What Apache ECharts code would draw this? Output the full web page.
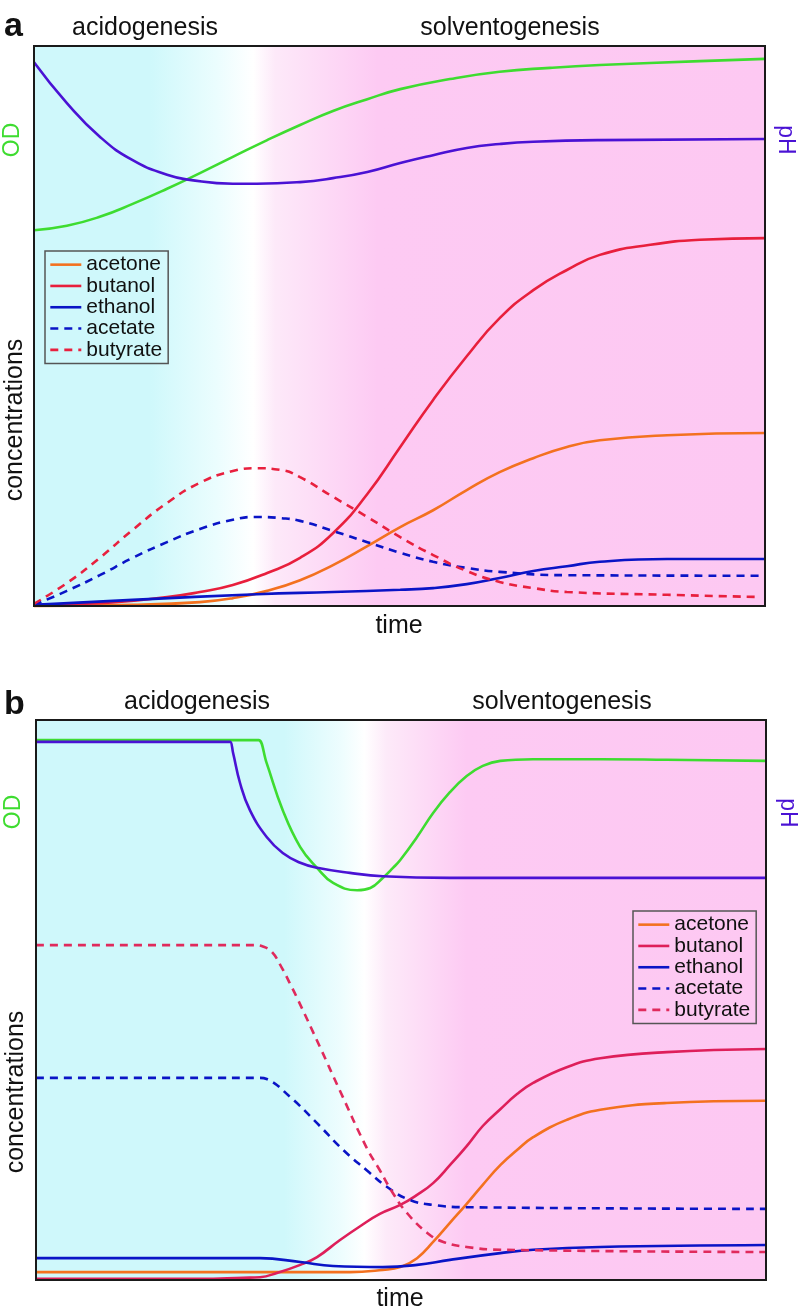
<!DOCTYPE html>
<html><head><meta charset="utf-8">
<script src="https://cdn.jsdelivr.net/npm/echarts@6/dist/echarts.min.js"></script>
<style>html,body{margin:0;padding:0;background:#fff}#c{width:799px;height:1312px}</style>
</head><body><div id="c"></div>
<script>
// ---------- labels ----------
const legendNames = ['acetone', 'butanol', 'ethanol', 'acetate', 'butyrate'];
const phaseLabels = ['acidogenesis', 'solventogenesis'];
const axisLabels = { od: 'OD', ph: 'pH', conc: 'concentrations', time: 'time' };
const panelLetters = ['a', 'b'];

// ---------- panel a (time 0-100, relative value 0-100) ----------
const odA_t = [0, 4.5, 9.0, 13.5, 18.2, 22.7, 27.2, 31.9, 36.4, 40.9, 45.6, 50.1, 56.9, 63.7, 70.6, 77.4, 91.1, 100];
const odA_v = [67.1, 67.9, 69.5, 71.8, 74.5, 77.3, 80.2, 83.2, 85.9, 88.4, 90.5, 92.3, 94.1, 95.4, 96.1, 96.6, 97.3, 97.7];
const phA_t = [0, 4.5, 9.0, 13.5, 18.2, 21.3, 27.2, 30.5, 36.4, 40.9, 45.6, 50.1, 54.6, 59.2, 63.7, 68.3, 77.4, 100];
const phA_v = [97.1, 89.8, 83.8, 79.6, 77.0, 76.1, 75.4, 75.4, 75.7, 76.4, 77.5, 79.1, 80.5, 81.8, 82.5, 82.9, 83.2, 83.4];
const butanolA_t = [0, 9.0, 18.2, 22.7, 27.2, 31.9, 36.4, 40.9, 45.6, 50.1, 54.6, 59.2, 63.7, 68.3, 72.9, 77.4, 84.3, 91.1, 100];
const butanolA_v = [0.2, 0.5, 1.6, 2.5, 3.75, 5.9, 8.6, 13.0, 20.0, 28.4, 36.8, 44.6, 51.4, 56.4, 60.0, 62.7, 64.5, 65.4, 65.7];
const acetoneA_t = [0, 13.5, 22.7, 27.2, 31.9, 36.4, 40.9, 45.6, 50.1, 54.6, 59.2, 63.7, 68.3, 72.9, 77.4, 86.6, 100];
const acetoneA_v = [0, 0.2, 0.7, 1.4, 2.7, 4.6, 7.3, 10.7, 14.1, 17.1, 20.7, 23.9, 26.4, 28.4, 29.6, 30.5, 30.9];
const ethanolA_t = [0, 13.5, 30.5, 40.9, 50.1, 54.6, 59.2, 63.7, 68.3, 72.9, 77.4, 86.6, 100];
const ethanolA_v = [0.2, 1.1, 2.1, 2.5, 2.9, 3.2, 3.9, 5.0, 6.25, 7.1, 7.9, 8.4, 8.4];
const butyrateA_t = [0, 4.5, 9.0, 13.5, 18.2, 22.7, 27.2, 30.5, 33.7, 36.4, 40.9, 45.6, 50.1, 54.6, 59.2, 63.7, 68.3, 72.9, 86.6, 99.3];
const butyrateA_v = [0.4, 4.1, 8.6, 13.6, 18.4, 22.0, 24.1, 24.6, 24.3, 23.0, 19.5, 15.9, 12.3, 9.1, 6.25, 4.3, 3.2, 2.5, 2.0, 1.6];
const acetateA_t = [0, 4.5, 9.0, 13.5, 18.2, 22.7, 27.2, 30.5, 33.7, 36.4, 40.9, 45.6, 50.1, 54.6, 59.2, 63.7, 72.9, 100];
const acetateA_v = [0.2, 2.7, 5.5, 8.6, 11.4, 13.75, 15.4, 15.9, 15.7, 15.2, 13.4, 11.4, 9.5, 7.9, 6.8, 6.1, 5.5, 5.4];

// ---------- panel b ----------
const odB_t = [0, 22.5, 30.2, 30.5, 31.6, 33.8, 36.2, 38.5, 40.7, 44.0, 45.8, 47.5, 48.9, 49.9, 52.2, 54.4, 56.7, 59.0, 61.2, 63.6, 68.1, 77.3, 86.4, 100];
const odB_v = [96.4, 96.4, 96.4, 96.4, 92.3, 83.9, 77.3, 73.6, 70.9, 69.6, 70.0, 71.8, 73.6, 75.0, 79.1, 83.4, 87.1, 90.0, 91.8, 92.7, 93.0, 93.0, 92.9, 92.7];
const phB_t = [0, 22.5, 26.3, 26.6, 27.0, 27.95, 29.3, 31.6, 33.8, 36.2, 38.5, 43.0, 47.5, 56.7, 100];
const phB_v = [96.1, 96.1, 96.1, 96.1, 94.1, 88.75, 83.9, 79.1, 76.25, 74.5, 73.6, 72.7, 72.1, 71.8, 71.8];
const butyrateB_t = [0, 22.5, 30.0, 31.0, 32.3, 33.7, 34.8, 35.9, 38.9, 41.6, 45.3, 47.1, 48.9, 50.8, 53.6, 55.8, 59.0, 63.6, 100];
const butyrateB_v = [59.8, 59.8, 59.8, 59.6, 58.6, 55.7, 52.9, 50.0, 41.6, 33.9, 23.6, 19.6, 15.5, 12.0, 8.4, 6.8, 5.9, 5.4, 5.0];
const acetateB_t = [0, 22.5, 30.7, 31.6, 34.8, 38.5, 42.1, 45.3, 48.1, 51.2, 54.4, 59.0, 100];
const acetateB_v = [36.1, 36.1, 36.1, 35.9, 32.7, 28.0, 23.2, 19.6, 16.6, 14.3, 13.4, 13.0, 12.7];
const butanolB_t = [0, 22.5, 28.4, 30.7, 33.0, 36.2, 38.5, 41.6, 44.4, 47.1, 49.9, 52.2, 54.4, 56.7, 59.0, 61.2, 63.6, 65.9, 68.1, 72.7, 77.3, 86.4, 100];
const butanolB_v = [0.2, 0.2, 0.4, 0.5, 1.25, 2.7, 4.1, 7.1, 9.6, 11.8, 13.4, 15.2, 17.3, 20.5, 23.9, 27.5, 30.5, 33.2, 35.2, 38.0, 39.6, 40.7, 41.25];
const acetoneB_t = [0, 22.5, 43.0, 47.5, 49.9, 52.2, 54.4, 56.7, 59.0, 61.2, 63.6, 65.9, 68.1, 72.7, 77.3, 86.4, 100];
const acetoneB_v = [1.4, 1.4, 1.4, 1.8, 2.3, 3.9, 6.8, 10.2, 13.6, 17.0, 20.5, 23.2, 25.5, 28.6, 30.4, 31.6, 32.0];
const ethanolB_t = [0, 22.5, 30.7, 36.2, 40.7, 47.5, 52.2, 56.7, 63.6, 68.1, 77.3, 100];
const ethanolB_v = [3.9, 3.9, 3.9, 3.2, 2.5, 2.3, 2.7, 3.6, 4.8, 5.4, 5.9, 6.25];

// ---------- style / layout ----------
const C = {
  od: '#3edc30', ph: '#4a12d4', acetone: '#f3711f', butanolA: '#e81f3c', butanolB: '#de1f5a',
  blue: '#0a14c6', butyrateA: '#e8203e', butyrateB: '#e02a5c',
  cyan: '#cff8fb', pink: '#fdc8f2', ink: '#111111'
};
const GA = { left: 34, top: 46, width: 731, height: 560 };
const GB = { left: 36, top: 720, width: 730, height: 560 };
const FONT = '"Liberation Sans", Arial, Helvetica, sans-serif';

function zip(t, v) { return t.map((x, i) => [x, v[i]]); }
function ln(name, t, v, color, g, dashed) {
  return {
    type: 'line', name: name, xAxisIndex: g, yAxisIndex: g, data: zip(t, v),
    symbol: 'none', showSymbol: false, smooth: g === 0 ? 0.5 : 0.45, silent: true, clip: false,
    lineStyle: { color: color, width: 2.6, type: dashed ? [8, 6] : 'solid' },
    itemStyle: { color: color }, z: 3
  };
}
function grad(stops) {
  return { type: 'linear', x: 0, y: 0, x2: 1, y2: 0, colorStops: stops };
}
const bgA = grad([
  { offset: 0, color: C.cyan }, { offset: 0.16, color: C.cyan }, { offset: 0.25, color: '#ebfdfe' },
  { offset: 0.30, color: '#ffffff' }, { offset: 0.33, color: '#fde9f9' }, { offset: 0.47, color: '#fdcaf3' },
  { offset: 1, color: C.pink }
]);
const bgB = grad([
  { offset: 0, color: C.cyan }, { offset: 0.34, color: C.cyan }, { offset: 0.42, color: '#eefdfe' },
  { offset: 0.45, color: '#ffffff' }, { offset: 0.48, color: '#fdeaf9' }, { offset: 0.59, color: '#fdcaf3' },
  { offset: 1, color: C.pink }
]);

function gridOpt(G, bg) {
  return { left: G.left, top: G.top, width: G.width, height: G.height, show: true, backgroundColor: bg, borderWidth: 0 };
}
function ax(i) {
  return { type: 'value', gridIndex: i, min: 0, max: 100, show: false };
}
function txt(s, x, y, opts) {
  opts = opts || {};
  return {
    type: 'text', x: x, y: y, rotation: opts.rot || 0, z: 120, silent: true,
    style: {
      text: s, fill: opts.color || C.ink, font: (opts.weight || 'normal') + ' ' + (opts.size || 25) + 'px ' + FONT,
      align: opts.align || 'center', verticalAlign: 'middle'
    }
  };
}
function frame(G) {
  return { type: 'rect', z: 110, silent: true, shape: { x: G.left, y: G.top, width: G.width, height: G.height },
    style: { fill: null, stroke: '#1a1a1a', lineWidth: 2 } };
}
function legendOpt(left, top, butanolColor, butyrateColor) {
  const cols = { acetone: C.acetone, butanol: butanolColor, ethanol: C.blue, acetate: C.blue, butyrate: butyrateColor };
  return {
    orient: 'vertical', left: left, top: top, itemGap: 0, itemWidth: 31, itemHeight: 14,
    padding: [3, 6, 3, 4], borderColor: '#555', borderWidth: 1.5, backgroundColor: 'transparent',
    selectedMode: false,
    textStyle: { fontSize: 21, lineHeight: 21.3, color: C.ink, fontFamily: FONT },
    data: legendNames.map(n => ({ name: n,
      lineStyle: { color: cols[n], width: 2.6, opacity: 1, type: (n === 'acetate' || n === 'butyrate') ? [8, 6] : 'solid' },
      itemStyle: { color: cols[n], opacity: 0, borderWidth: 0 } }))
  };
}

const option = {
  animation: false,
  backgroundColor: '#ffffff',
  grid: [gridOpt(GA, bgA), gridOpt(GB, bgB)],
  xAxis: [ax(0), ax(1)],
  yAxis: [ax(0), ax(1)],
  legend: [legendOpt(45, 251, C.butanolA, C.butyrateA), legendOpt(633, 911, C.butanolB, C.butyrateB)],
  series: [
    ln('OD', odA_t, odA_v, C.od, 0),
    ln('pH', phA_t, phA_v, C.ph, 0),
    ln('acetone', acetoneA_t, acetoneA_v, C.acetone, 0),
    ln('butanol', butanolA_t, butanolA_v, C.butanolA, 0),
    ln('ethanol', ethanolA_t, ethanolA_v, C.blue, 0),
    ln('acetate', acetateA_t, acetateA_v, C.blue, 0, true),
    ln('butyrate', butyrateA_t, butyrateA_v, C.butyrateA, 0, true),
    ln('OD', odB_t, odB_v, C.od, 1),
    ln('pH', phB_t, phB_v, C.ph, 1),
    ln('acetone', acetoneB_t, acetoneB_v, C.acetone, 1),
    ln('butanol', butanolB_t, butanolB_v, C.butanolB, 1),
    ln('ethanol', ethanolB_t, ethanolB_v, C.blue, 1),
    ln('acetate', acetateB_t, acetateB_v, C.blue, 1, true),
    ln('butyrate', butyrateB_t, butyrateB_v, C.butyrateB, 1, true)
  ],
  graphic: [
    frame(GA), frame(GB),
    txt(panelLetters[0], 4, 27, { size: 34, weight: 'bold', align: 'left' }),
    txt(phaseLabels[0], 145, 28),
    txt(phaseLabels[1], 510, 28),
    txt(axisLabels.od, 13, 140, { rot: Math.PI / 2, color: C.od, size: 23 }),
    txt(axisLabels.ph, 785, 140, { rot: -Math.PI / 2, color: C.ph, size: 23 }),
    txt(axisLabels.conc, 15, 420, { rot: Math.PI / 2 }),
    txt(axisLabels.time, 399, 626),
    txt(panelLetters[1], 4, 705, { size: 34, weight: 'bold', align: 'left' }),
    txt(phaseLabels[0], 197, 702),
    txt(phaseLabels[1], 562, 702),
    txt(axisLabels.od, 14, 812, { rot: Math.PI / 2, color: C.od, size: 23 }),
    txt(axisLabels.ph, 787, 813, { rot: -Math.PI / 2, color: C.ph, size: 23 }),
    txt(axisLabels.conc, 16, 1092, { rot: Math.PI / 2 }),
    txt(axisLabels.time, 400, 1299)
  ]
};
const chart = echarts.init(document.getElementById('c'), null, { renderer: 'canvas' });
chart.setOption(option);
</script>
</body></html>
